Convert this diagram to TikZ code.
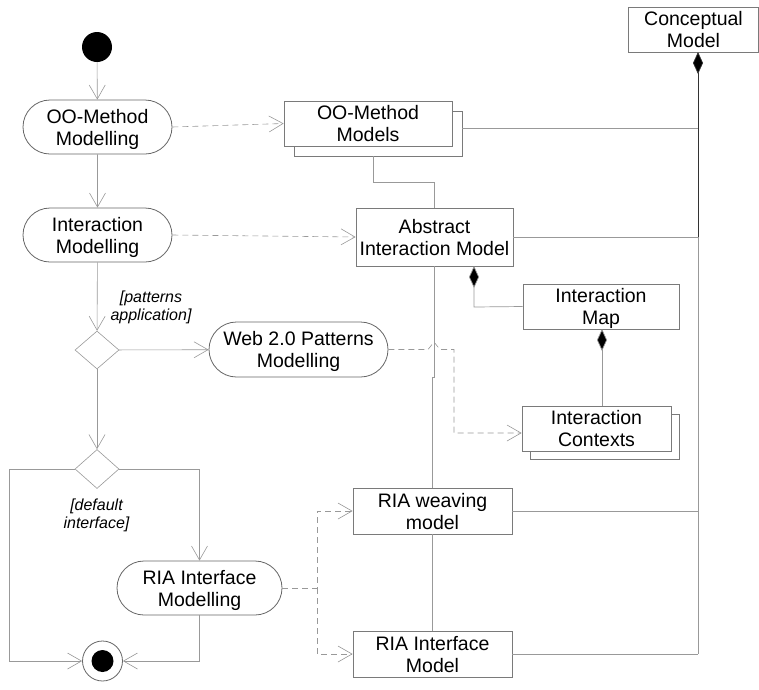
\documentclass[tikz,border=0pt]{standalone}
\usepackage{fontspec}
\setmainfont{Liberation Sans}
\usetikzlibrary{arrows.meta,shapes.misc,shapes.geometric,shadows}
\definecolor{edge}{HTML}{999999}
\definecolor{frame}{HTML}{7A7A7A}
\definecolor{pillframe}{HTML}{666666}
\definecolor{spinetop}{HTML}{333333}
\tikzset{
  x=1pt, y=-1pt,
  lbl/.style={font=\fontsize{19.5}{22}\selectfont, align=center, inner sep=0pt, text depth=0pt},
  guard/.style={font=\itshape\fontsize{16}{18}\selectfont, align=center, inner sep=0pt},
  activity/.style={lbl, rounded rectangle, draw=pillframe, line width=0.8pt, fill=white},
  modelbox/.style={lbl, rectangle, draw=frame, line width=0.8pt, fill=white},
  stackbox/.style={modelbox, copy shadow={shadow xshift=#1pt, shadow yshift=-#1pt, draw=frame, fill=white}},
  decision/.style={diamond, draw=edge, line width=0.6pt, fill=white, inner sep=0pt},
  flow/.style={draw=edge, line width=0.6pt, -{Straight Barb[length=14pt,width=16pt,line width=0.6pt]}},
  dep/.style={flow, dash pattern=on 6pt off 4pt},
  link/.style={draw=edge, line width=0.7pt},
  compose/.style={link, {Diamond[length=22pt,width=10pt,fill=black]}-},
}
\begin{document}
\begin{tikzpicture}
\useasboundingbox (0,0) rectangle (759,689);

% activity flow
\node[circle, fill=black, minimum size=30pt, inner sep=0pt] (start) at (97,47) {};
\node[activity, minimum width=149pt, minimum height=54pt] (oom) at (97.5,127) {OO-Method\\Modelling};
\node[activity, minimum width=149pt, minimum height=54pt] (im) at (97.5,235) {Interaction\\Modelling};
\node[decision, minimum width=44pt, minimum height=38pt] (d1) at (97,350) {};
\node[activity, minimum width=179pt, minimum height=55pt] (web) at (298.5,349.5) {Web 2.0 Patterns\\Modelling};
\node[decision, minimum width=44pt, minimum height=39pt] (d2) at (97,469) {};
\node[activity, minimum width=165pt, minimum height=54pt] (riam) at (199.5,588) {RIA Interface\\Modelling};
\node[circle, draw=pillframe, line width=0.8pt, fill=white, minimum size=40pt, inner sep=0pt] (final) at (102.5,661) {};
\node[circle, fill=black, minimum size=22pt, inner sep=0pt] (finaldot) at (102.5,661) {};

\node[guard] (g1) at (151,307) {[patterns\\application]};
\node[guard] (g2) at (96.5,515) {[default\\interface]};

% models
\node[stackbox=10, minimum width=168pt, minimum height=45pt] (oomodels) at (368,123.5) {OO-Method\\Models};
\node[modelbox, minimum width=157pt, minimum height=58pt] (abs) at (434.5,237) {Abstract\\Interaction Model};
\node[modelbox, minimum width=130pt, minimum height=45pt] (cm) at (693.5,29.5) {Conceptual\\Model};
\node[modelbox, minimum width=156pt, minimum height=45pt] (imap) at (601,306.5) {Interaction\\Map};
\node[stackbox=8, minimum width=149pt, minimum height=45pt] (ictx) at (596.5,428.5) {Interaction\\Contexts};
\node[modelbox, minimum width=159pt, minimum height=46pt] (rw) at (432.5,511) {RIA weaving\\model};
\node[modelbox, minimum width=159pt, minimum height=46pt] (rim) at (432.5,654) {RIA Interface\\Model};

% control flow
\draw[flow] (start) -- (oom);
\draw[flow] (oom) -- (im);
\draw[flow] (im) -- (d1);
\draw[flow] (d1) -- (web);
\draw[flow] (d1) -- (d2);
\draw[flow] (d2.west) -- (9,469) -- (9,661) -- (final.west);
\draw[flow] (d2.east) -- (199.5,469) -- (riam.north);
\draw[flow] (riam.south) -- (199.5,661) -- (final.east);

% dependencies
\draw[dep] (oom.east) -- (oomodels.west);
\draw[dep] (im.east) -- (abs.west);
\draw[dep] (web.east) -- (428,349.5) -- (434,342) -- (440,349.5) -- (454,349.5) -- (454,433) -- (ictx.west |- 0,433);
\draw[dep] (riam.east) -- (317,588) -- (317,511) -- (rw.west);
\draw[dep] (317,588) -- (317,654) -- (rim.west);

% model structure
\draw[link] (698,237) -- (698,654);
\draw[compose, draw=spinetop] (698,52) -- (698,237);
\draw[link] (462,128) -- (698,128);
\draw[link] (abs.east) -- (698,237);
\draw[link] (rw.east) -- (698,511);
\draw[link] (rim.east) -- (698,654);
\draw[link] (373,156) -- (373,182) -- (434,182) -- (434,208);
\draw[link] (434,266) -- (434,377) -- (432,377) -- (rw.north -| 432,0);
\draw[link] (rw.south) -- (rim.north);
\draw[compose] (474,266) -- (474,307) -- (imap.west);
\draw[compose] (602,329) -- (602,406);
\end{tikzpicture}
\end{document}
